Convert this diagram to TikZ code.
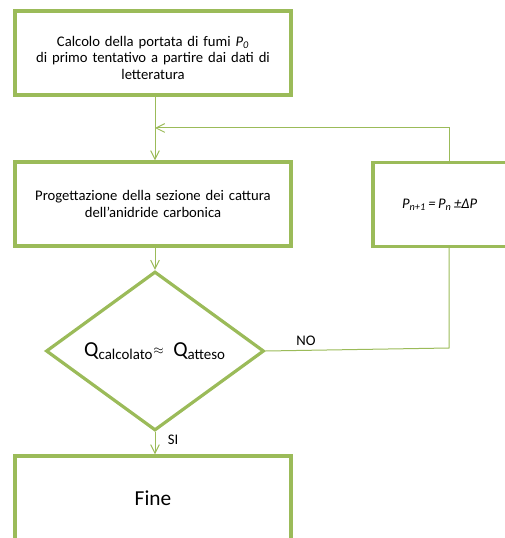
\documentclass[tikz,border=0pt]{standalone}
\usepackage{fontspec}
\setmainfont{Carlito}
\usetikzlibrary{shapes.geometric,arrows.meta}
\definecolor{verde}{HTML}{9BBB59}
\begin{document}
\begin{tikzpicture}[x=0.75pt, y=-0.75pt, passo/.style={draw=verde, line width=2.4pt, minimum width=207pt, minimum height=63pt, text width=195pt, align=center, font=\fontsize{11}{12.5}\selectfont}, scelta/.style={draw=verde, line width=2.4pt, diamond, minimum width=163.5pt, minimum height=94.5pt, inner sep=0pt, font=\fontsize{16}{18}\selectfont}, freccia/.style={draw=verde, line width=0.75pt, -{Straight Barb[length=6.5pt,width=6.5pt]}}, linea/.style={draw=verde, line width=0.75pt}, etichetta/.style={font=\fontsize{11}{12}\selectfont}]
	\useasboundingbox (0,0) rectangle (504,538);
	\node[passo, text height=15pt] (B1) at (153,53) {Calcolo della portata di fumi \textit{P\textsubscript{0}}\\ di primo tentativo a partire dai dati di\\ letteratura};
	\node[passo] (B2) at (153,204) {Progettazione della sezione dei cattura\\ dell’anidride carbonica};
	\node[passo, minimum width=120pt, text width=110pt] (P) at (453,204.5) {\hspace*{-20pt}\textit{P\textsubscript{n+1}\,=\,P\textsubscript{n}\,±ΔP}};
	\node[scelta] (D) at (155,351) {Q\textsubscript{calcolato}\raisebox{1.5pt}{\fontsize{10}{10}\selectfont$\approx$}\ \ Q\textsubscript{atteso}};
	\node[passo] (F) at (153,498) {\fontsize{16}{18}\selectfont Fine};
	\coordinate (giunto) at (155,128);
	\coordinate (ritorno) at (449,128);
	\coordinate (angolo) at (449,348);
	\draw[freccia] (B1.south -| giunto) -- (B2.north -| giunto);
	\draw[freccia] (ritorno |- P.north) -- (ritorno) -- (giunto);
	\draw[freccia] (B2.south -| D.north) -- (D.north);
	\draw[freccia] (D.south) -- node[etichetta, right, xshift=6pt, pos=0.35] (si) {SI} (F.north -| D.south);
	\draw[linea] (D.east) -- node[etichetta, above, pos=0.22] (no) {NO} (angolo) -- (ritorno |- P.south);
\end{tikzpicture}
\end{document}
